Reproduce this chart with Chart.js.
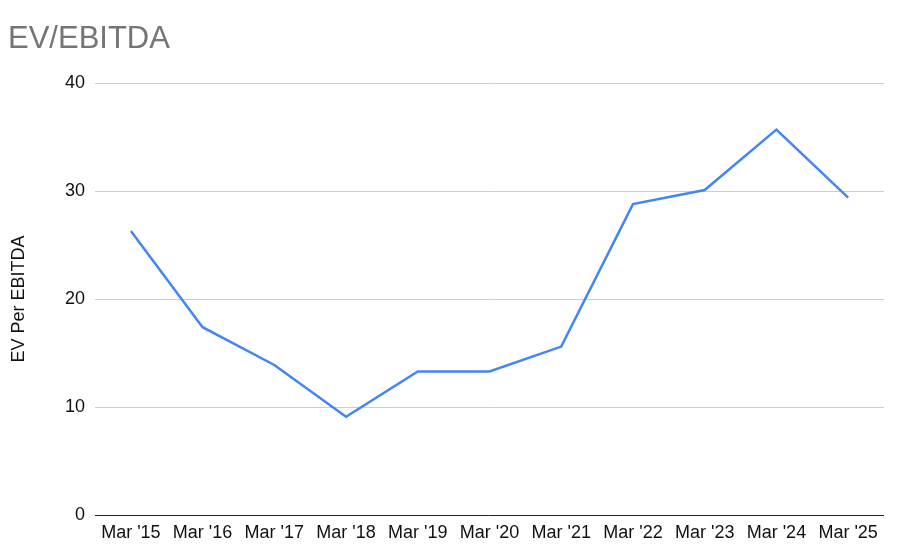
<!DOCTYPE html>
<html>
<head>
<meta charset="utf-8">
<script src="https://cdn.jsdelivr.net/npm/chart.js@4/dist/chart.umd.min.js"></script>
<style>
  html, body { margin: 0; padding: 0; background: #fff; }
  #wrap { width: 900px; height: 560px; }
</style>
</head>
<body>
<div id="wrap"><canvas id="chart"></canvas></div>
<script>
// values
const periods = ["Mar '15", "Mar '16", "Mar '17", "Mar '18", "Mar '19", "Mar '20",
                 "Mar '21", "Mar '22", "Mar '23", "Mar '24", "Mar '25"]
const evPerEbitda = [26.3, 17.4, 13.9, 9.1, 13.3, 13.3, 15.6, 28.8, 30.1, 35.7, 29.4]
const yTicks = [0, 10, 20, 30, 40]

const font = "'Liberation Sans', Arial, Helvetica, sans-serif"

var ctx = document.getElementById('chart').getContext('2d')
var chart = new Chart(ctx, {
  type: 'line',
  data: {
    labels: periods,
    datasets: [{
      label: 'EV Per EBITDA',
      data: evPerEbitda,
      borderColor: '#4285F4',
      borderWidth: 2.5,
      pointRadius: 0,
      tension: 0,
      fill: false
    }]
  },
  options: {
    responsive: true,
    maintainAspectRatio: false,
    animation: false,
    layout: { padding: { left: 8, right: 16, top: 0, bottom: 0 } },
    plugins: {
      legend: { display: false },
      tooltip: { enabled: false },
      title: {
        display: true,
        text: 'EV/EBITDA',
        align: 'start',
        color: '#757575',
        font: { family: font, size: 31, weight: 'normal' },
        padding: { top: 21, bottom: 25 }
      }
    },
    scales: {
      x: {
        offset: true,
        grid: { display: false, drawTicks: false },
        border: { display: false },
        ticks: {
          color: '#111',
          font: { family: font, size: 18 },
          padding: 7,
          maxRotation: 0,
          autoSkip: false
        },
        afterFit: function(scale) { scale.height = 45 }
      },
      y: {
        min: yTicks[0],
        max: yTicks[yTicks.length - 1],
        afterBuildTicks: function(scale) {
          scale.ticks = yTicks.map(function(v) { return { value: v } })
        },
        grid: {
          drawTicks: false,
          lineWidth: 1,
          color: function(c) { return c.tick && c.tick.value === 0 ? '#222' : '#cccccc' }
        },
        border: { display: false },
        ticks: {
          color: '#111',
          font: { family: font, size: 18 },
          padding: 10
        },
        title: {
          display: true,
          text: 'EV Per EBITDA',
          color: '#111',
          font: { family: font, size: 18 },
          padding: 0
        },
        afterFit: function(scale) { scale.width = 87 }
      }
    }
  }
})
</script>
</body>
</html>
